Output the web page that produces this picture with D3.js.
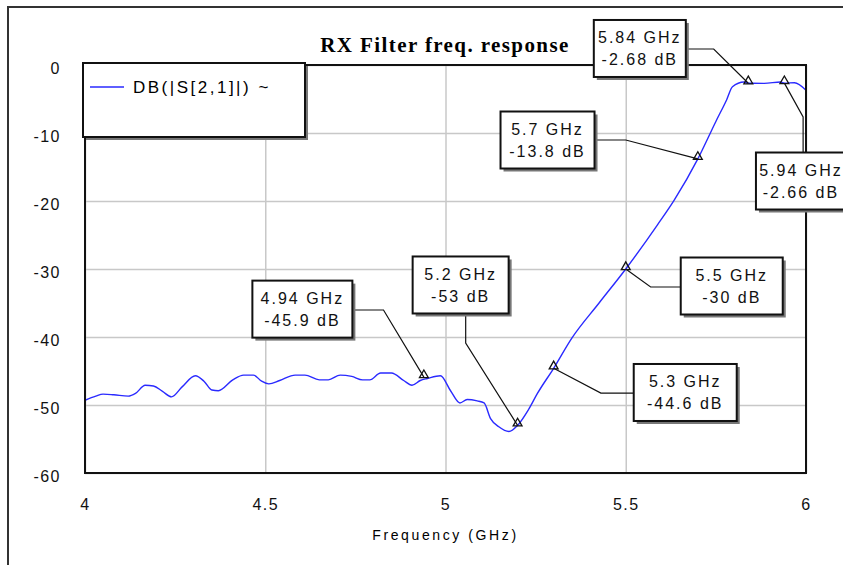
<!DOCTYPE html>
<html>
<head>
<meta charset="utf-8">
<script src="https://cdn.jsdelivr.net/npm/d3@7"></script>
<style>
  body { margin: 0; background: #fff; }
  svg { display: block; }
</style>
</head>
<body>
<script>
// frequency (GHz) and S21 (dB)
const freq = [4.00, 4.03, 4.05, 4.08, 4.12, 4.14, 4.167, 4.19, 4.215, 4.24, 4.27, 4.306, 4.33, 4.352, 4.37, 4.41,
  4.44, 4.467, 4.49, 4.51, 4.54, 4.583, 4.61, 4.65, 4.675, 4.708, 4.74, 4.77, 4.79, 4.82, 4.85, 4.884,
  4.907, 4.93, 4.95, 4.986, 5.014, 5.04, 5.06, 5.088, 5.107, 5.125, 5.148, 5.176, 5.2, 5.23, 5.255, 5.30,
  5.35, 5.426, 5.5, 5.588, 5.634, 5.70, 5.75, 5.78, 5.796, 5.828, 5.84, 5.884, 5.93, 5.94, 5.968, 6.0];
const s21 = [-49.3, -48.7, -48.4, -48.5, -48.7, -48.3, -47.1, -47.2, -48.0, -48.8, -47.3, -45.7, -46.5, -47.8, -47.9, -46.3,
  -45.6, -45.6, -46.5, -46.9, -46.4, -45.6, -45.6, -46.3, -46.3, -45.6, -45.8, -46.3, -46.3, -45.3, -45.3, -46.4,
  -47.1, -46.4, -46.1, -45.7, -47.9, -49.7, -49.2, -49.4, -49.7, -52.0, -53.2, -53.9, -53.0, -50.7, -48.3, -44.6,
  -40.2, -35.0, -30.0, -23.5, -19.9, -13.8, -8.3, -5.1, -3.2, -2.5, -2.68, -2.7, -2.5, -2.66, -2.6, -3.7];

const xTicks = [4, 4.5, 5, 5.5, 6];
const yTicks = [0, -10, -20, -30, -40, -50, -60];

// markers: frequency, value, label box centre and leader elbow (in data units), side the leader leaves from
const markerFreq = [5.84, 5.94, 5.7, 5.5, 5.3, 5.2, 4.94];
const markerDb = [-2.68, -2.66, -13.8, -30, -44.6, -53, -45.9];
const markerText = [['5.84 GHz', '-2.68 dB'], ['5.94 GHz', '-2.66 dB'], ['5.7 GHz', '-13.8 dB'], ['5.5 GHz', '-30 dB'],
  ['5.3 GHz', '-44.6 dB'], ['5.2 GHz', '-53 dB'], ['4.94 GHz', '-45.9 dB']];
const boxFreq = [5.539, 5.986, 5.283, 5.794, 5.665, 5.042, 4.603];
const boxDb = [2.43, -17.06, -11.03, -32.5, -48.16, -32.35, -35.9];
const elbowFreq = [5.744, 5.992, 5.5, 5.569, 5.431, 5.056, 4.828];
const elbowDb = [2.35, -7.65, -11.03, -32.65, -48.24, -40.9, -36.03];
const boxSide = ['right', 'top', 'right', 'left', 'left', 'bottom', 'right'];
const boxW = [92, 90, 94, 102, 103, 96, 100];

const W = 843, H = 565;
const margin = { top: 65, right: 37, bottom: 92, left: 85 };
const width = W - margin.left - margin.right, height = H - margin.top - margin.bottom;
const boxH = 57;
const sansFont = '"Liberation Sans", Arial, sans-serif';

const svg = d3.select('body').append('svg')
  .attr('width', W)
  .attr('height', H);

// outer window frame
svg.append('path')
  .attr('d', `M8,${H} V7 H${W}`)
  .attr('fill', 'none')
  .attr('stroke', '#333')
  .attr('stroke-width', 2);

const g = svg.append('g')
  .attr('transform', `translate(${margin.left},${margin.top})`);

const x = d3.scaleLinear().domain([4, 6]).range([0, width]);
const y = d3.scaleLinear().domain([-60, 0]).range([height, 0]);

// grid
g.append('g')
  .call(d3.axisBottom(x).tickValues(xTicks).tickSize(height).tickFormat(''))
  .call(s => s.select('.domain').remove())
  .selectAll('line').attr('stroke', '#c8c8c8').attr('stroke-width', 1.5);
g.append('g')
  .call(d3.axisLeft(y).tickValues(yTicks).tickSize(-width).tickFormat(''))
  .call(s => s.select('.domain').remove())
  .selectAll('line').attr('stroke', '#c8c8c8').attr('stroke-width', 1.5);

// tick labels (plain hyphen minus like the original)
g.append('g')
  .attr('transform', `translate(0,${height})`)
  .call(d3.axisBottom(x).tickValues(xTicks).tickSize(0).tickPadding(26).tickFormat(d => String(d)))
  .call(s => s.select('.domain').remove())
  .selectAll('text')
  .style('font-family', sansFont).style('font-size', '16px').style('letter-spacing', '1.5px')
  .attr('fill', '#111');
g.append('g')
  .call(d3.axisLeft(y).tickValues(yTicks).tickSize(0).tickPadding(24).tickFormat(d => String(d)))
  .call(s => s.select('.domain').remove())
  .selectAll('text')
  .attr('dy', '0.55em')
  .style('font-family', sansFont).style('font-size', '16px').style('letter-spacing', '1.5px')
  .attr('fill', '#111');

// curve
const pts = freq.map((f, i) => [f, s21[i]]);
g.append('path')
  .datum(pts)
  .attr('fill', 'none')
  .attr('stroke', '#2a2aff')
  .attr('stroke-width', 1.4)
  .attr('d', d3.line().x(d => x(d[0])).y(d => y(d[1])).curve(d3.curveMonotoneX));

// plot frame
g.append('rect')
  .attr('width', width).attr('height', height)
  .attr('fill', 'none').attr('stroke', '#111').attr('stroke-width', 2);

// title
svg.append('text')
  .attr('x', 445).attr('y', 52)
  .attr('text-anchor', 'middle')
  .style('font-family', '"Liberation Serif", "Times New Roman", serif')
  .style('font-weight', 'bold').style('font-size', '21px').style('letter-spacing', '1.4px')
  .text('RX Filter freq. response');

// axis title
svg.append('text')
  .attr('x', margin.left + width / 2).attr('y', 540)
  .attr('text-anchor', 'middle')
  .style('font-family', sansFont).style('font-size', '14px').style('letter-spacing', '2.6px')
  .text('Frequency (GHz)');

// legend
const leg = g.append('g').attr('transform', 'translate(-2,-2)');
leg.append('rect').attr('x', 3).attr('y', 3).attr('width', 222).attr('height', 74).attr('fill', '#777');
leg.append('rect').attr('width', 222).attr('height', 74).attr('fill', '#fff').attr('stroke', '#111').attr('stroke-width', 2);
leg.append('line').attr('x1', 7).attr('x2', 41).attr('y1', 24).attr('y2', 24).attr('stroke', '#2a2aff').attr('stroke-width', 1.4);
leg.append('text').attr('x', 50).attr('y', 24).attr('dy', '0.35em')
  .style('font-family', sansFont).style('font-size', '17px').style('letter-spacing', '2.5px')
  .text('DB(|S[2,1]|) ~');

// marker annotations
markerFreq.forEach((f, i) => {
  const mx = x(f), my = y(markerDb[i]);
  const cx = x(boxFreq[i]), cy = y(boxDb[i]);
  const ex = x(elbowFreq[i]), ey = y(elbowDb[i]);
  const w = boxW[i];
  let ax, ay;
  if (boxSide[i] === 'right') { ax = cx + w / 2; ay = ey; }
  else if (boxSide[i] === 'left') { ax = cx - w / 2; ay = ey; }
  else if (boxSide[i] === 'top') { ax = ex; ay = cy - boxH / 2; }
  else { ax = ex; ay = cy + boxH / 2; }

  g.append('polyline')
    .attr('points', [[ax, ay], [ex, ey], [mx, my]].map(p => p.join(',')).join(' '))
    .attr('fill', 'none').attr('stroke', '#111').attr('stroke-width', 1.2);

  g.append('path')
    .attr('transform', `translate(${mx},${my - 2})`)
    .attr('d', d3.symbol(d3.symbolTriangle, 34)())
    .attr('fill', 'none').attr('stroke', '#111').attr('stroke-width', 1.3);

  const box = g.append('g').attr('transform', `translate(${cx - w / 2},${cy - boxH / 2})`);
  box.append('rect').attr('x', 3).attr('y', 3).attr('width', w).attr('height', boxH).attr('fill', '#777');
  box.append('rect').attr('width', w).attr('height', boxH).attr('fill', '#fff').attr('stroke', '#111').attr('stroke-width', 2);
  markerText[i].forEach((t, j) => {
    box.append('text')
      .attr('x', w / 2).attr('y', boxH / 2 + (j === 0 ? -11 : 11))
      .attr('dy', '0.35em').attr('text-anchor', 'middle')
      .style('font-family', sansFont).style('font-size', '16px').style('letter-spacing', '2px')
      .attr('fill', '#111')
      .text(t);
  });
});
</script>
</body>
</html>
